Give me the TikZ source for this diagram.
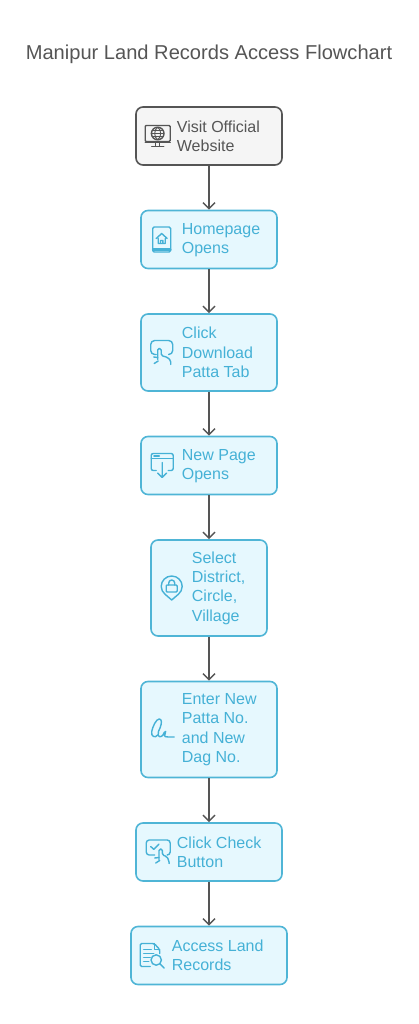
\documentclass[tikz,border=0pt]{standalone}
\usepackage{fontspec}
\setmainfont{Liberation Sans}
\usetikzlibrary{arrows.meta, positioning, calc}
\definecolor{flowEdge}{HTML}{4FB5D6}
\definecolor{flowFill}{HTML}{E6F8FE}
\definecolor{flowText}{HTML}{45B1D6}
\definecolor{startFill}{HTML}{F5F5F5}
\definecolor{darkLine}{HTML}{555555}

\begin{document}
\begin{tikzpicture}[
    x=1pt, y=1pt,
    node distance=43.9pt,
    flowbox/.style={rectangle, draw=flowEdge, fill=flowFill, rounded corners=7pt,
                    line width=1.6pt, minimum width=136pt, minimum height=58pt, inner sep=0pt},
    startbox/.style={flowbox, draw=darkLine, fill=startFill},
    lbl/.style={font=\fontsize{16}{19.3}\selectfont, align=left, text=flowText, anchor=west, inner sep=0pt},
    startlbl/.style={lbl, text=darkLine},
    arrow/.style={-{Straight Barb[length=6pt, width=12pt]}, line width=1.5pt, draw=darkLine},
    icon/.style={line width=1.4pt, draw=flowText, line cap=round, line join=round},
    iconMonitor/.pic={
        \draw[icon, draw=darkLine, rounded corners=1pt] (-12.5,-5.5) rectangle (12.5,10.5);
        \draw[icon, draw=darkLine] (-12.5,-6.5) -- (12.5,-6.5);
        \draw[icon, draw=darkLine] (0,2.5) circle (6.3);
        \draw[icon, draw=darkLine, line width=0.9pt] (-6.3,2.5) -- (6.3,2.5) (-5.5,5.5) -- (5.5,5.5) (-5.5,-0.5) -- (5.5,-0.5)
            (0,8.8) .. controls (-4,6) and (-4,-1) .. (0,-3.8) (0,8.8) .. controls (4,6) and (4,-1) .. (0,-3.8);
        \draw[icon, draw=darkLine] (-2,-6.5) -- (-2,-10) (2,-6.5) -- (2,-10) (-6,-10.5) -- (6,-10.5);
    },
    iconTablet/.pic={
        \draw[icon, rounded corners=1.5pt] (-9,-12.5) rectangle (9,12.5);
        \draw[icon, line width=2.6pt] (-8.5,-10) -- (8.5,-10);
        \draw[icon] (-5.5,1) -- (0,6) -- (5.5,1) (-3.5,1) -- (-3.5,-4) -- (3.5,-4) -- (3.5,1) (-1.2,-4) -- (-1.2,-1) -- (1.2,-1) -- (1.2,-4);
    },
    iconTap/.pic={
        \draw[icon, rounded corners=4pt] (-5.5,-2) -- (-11,-2) -- (-11,12) -- (11,12) -- (11,-2) -- (7.5,-2);
        \draw[icon, rounded corners=1.5pt] (-4,-7) -- (-4,4) -- (-0.5,4) -- (-0.5,-3) -- (6,-5) -- (9,-8) -- (9,-12);
        \draw[icon] (-4,-5) -- (-8,-4.5) (-7.5,-11) -- (-3.5,-8.5);
    },
    iconWindow/.pic={
        \draw[icon, rounded corners=2pt] (-6,-5) -- (-11,-5) -- (-11,12) -- (11,12) -- (11,-5) -- (6,-5);
        \draw[icon] (-11,7) -- (11,7);
        \draw[icon, line width=2pt] (-8,9.5) -- (-3,9.5);
        \draw[icon] (0,3) -- (0,-11.5) (-4.5,-7.5) -- (0,-12) -- (4.5,-7.5);
    },
    iconPin/.pic={
        \draw[icon] (0,-12) .. controls (-4,-8) and (-10.5,-5) .. (-10.5,1.5)
            arc[start angle=180, end angle=0, radius=10.5]
            .. controls (10.5,-5) and (4,-8) .. (0,-12);
        \draw[icon, rounded corners=1pt] (-5.5,-4) rectangle (5.5,3);
        \draw[icon] (-3,3) -- (-3,5) arc[start angle=180, end angle=0, radius=3] -- (3,3);
    },
    iconSign/.pic={
        \draw[icon] (-5.5,-5.5) .. controls (-8,-9) and (-12.5,-7) .. (-11.5,-2) .. controls (-10.5,3) and (-7,10.5) .. (-4,10.5)
            .. controls (-1,10.5) and (-1.5,6) .. (-3,2) .. controls (-4,-1) and (-6,-3) .. (-5,-6)
            .. controls (-3,-9) and (0,-6) .. (1,-3) .. controls (2,-1) and (3.5,-2) .. (2,-4)
            .. controls (0,-7) and (3,-8) .. (5,-7.5) -- (11,-7.5);
    },
    iconCheck/.pic={
        \draw[icon, rounded corners=3pt] (-3,-3) -- (-11.5,-3) -- (-11.5,12) -- (12.5,12) -- (12.5,-3) -- (10,-3);
        \draw[icon] (-7,5.5) -- (-4,2.7) -- (1.3,8);
        \draw[icon, rounded corners=1.5pt] (1.3,-8) -- (1.3,3) -- (4.7,3) -- (4.7,-3) -- (9,-4.5) -- (11,-8) -- (11.5,-11.5);
        \draw[icon] (1.3,-5.5) -- (-3,-6) (-2,-11) -- (2,-8.5);
    },
    iconSearchDoc/.pic={
        \draw[icon, rounded corners=1.5pt] (-2,-11) -- (-12,-11) -- (-12,12) -- (2,12) -- (7.5,6) -- (7.5,2);
        \draw[icon] (2,12) -- (2,6) -- (7.5,6);
        \draw[icon, line width=1.6pt] (-8.5,6) -- (-1,6) (-8.5,2) -- (1.5,2) (-8.5,-2) -- (-2,-2) (-8.5,-6) -- (-3.5,-6);
        \draw[icon] (4,-4.5) circle (5.2);
        \draw[icon] (7.7,-8.2) -- (12,-12.5);
    },
]
    \useasboundingbox (0,0) rectangle (418,-1024);

    % --- Title ---
    \node[font=\fontsize{20.1}{24}\selectfont, text=darkLine, inner sep=0pt] (title) at (209,-54)
        {Manipur Land Records Access Flowchart};

    % --- Boxes ---
    \node[startbox, minimum width=146pt] (visit) at (209,-136) {};
    \node[flowbox] (home) [below=of visit] {};
    \node[flowbox, minimum height=77pt] (tab) [below=of home] {};
    \node[flowbox] (page) [below=of tab] {};
    \node[flowbox, minimum width=116pt, minimum height=96pt] (select) [below=of page] {};
    \node[flowbox, minimum height=96pt] (enter) [below=of select] {};
    \node[flowbox, minimum width=146pt] (check) [below=of enter] {};
    \node[flowbox, minimum width=156pt] (access) [below=of check] {};

    % --- Box texts ---
    \node[startlbl] (visitT) at ($(visit.west)+(41.5,0)$) {Visit Official\\Website};
    \node[lbl] (homeT) at ($(home.west)+(41.5,-1)$) {Homepage\\Opens};
    \node[lbl] (tabT) at ($(tab.west)+(41.5,0)$) {Click\\Download\\Patta Tab};
    \node[lbl] (pageT) at ($(page.west)+(41.5,-1)$) {New Page\\Opens};
    \node[lbl] (selectT) at ($(select.west)+(41.5,0)$) {Select\\District,\\Circle,\\Village};
    \node[lbl] (enterT) at ($(enter.west)+(41.5,0)$) {Enter New\\Patta No.\\and New\\Dag No.};
    \node[lbl] (checkT) at ($(check.west)+(41.5,0)$) {Click Check\\Button};
    \node[lbl] (accessT) at ($(access.west)+(41.5,0)$) {Access Land\\Records};

    % --- Icons ---
    \pic at ($(visit.west)+(22.5,0)$) {iconMonitor};
    \pic at ($(home.west)+(21.5,0)$) {iconTablet};
    \pic at ($(tab.west)+(21.5,0)$) {iconTap};
    \pic at ($(page.west)+(22,0)$) {iconWindow};
    \pic at ($(select.west)+(21.5,0)$) {iconPin};
    \pic at ($(enter.west)+(23,0)$) {iconSign};
    \pic at ($(check.west)+(22.5,0)$) {iconCheck};
    \pic at ($(access.west)+(22,0)$) {iconSearchDoc};

    % --- Arrows ---
    \draw[arrow] (visit) -- (home);
    \draw[arrow] (home) -- (tab);
    \draw[arrow] (tab) -- (page);
    \draw[arrow] (page) -- (select);
    \draw[arrow] (select) -- (enter);
    \draw[arrow] (enter) -- (check);
    \draw[arrow] (check) -- (access);
\end{tikzpicture}
\end{document}
